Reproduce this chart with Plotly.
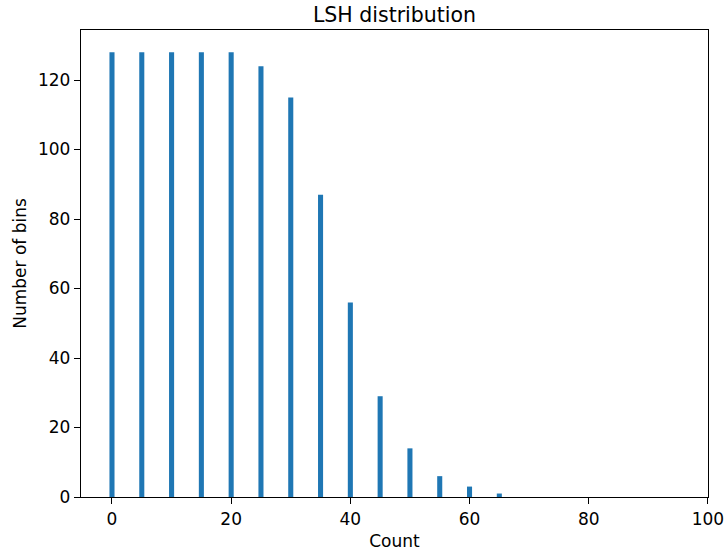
import plotly.graph_objects as go

counts = [0, 5, 10, 15, 20, 25, 30, 35, 40, 45, 50, 55, 60, 65]
num_bins = [128, 128, 128, 128, 128, 124, 115, 87, 56, 29, 14, 6, 3, 1]
x_ticks = [0, 20, 40, 60, 80, 100]
y_ticks = [0, 20, 40, 60, 80, 100, 120]

FONT = "DejaVu Sans"
W, H = 724, 556

fig = go.Figure(
    go.Bar(x=counts, y=num_bins, width=0.85, marker=dict(color="#1f77b4", line=dict(width=0)))
)

fig.update_layout(
    width=W,
    height=H,
    margin=dict(l=81, r=16, t=30, b=59, autoexpand=False),
    paper_bgcolor="white",
    plot_bgcolor="white",
    font=dict(family=FONT, size=17, color="black"),
    showlegend=False,
    title=dict(
        text="LSH distribution",
        x=0.5,
        xref="paper",
        xanchor="center",
        y=1 - 14.5 / H,
        yref="container",
        yanchor="middle",
        font=dict(family=FONT, size=20.5, color="black"),
    ),
)

fig.update_xaxes(
    range=[-5.2, 100.02],
    tickmode="array",
    tickvals=x_ticks,
    ticks="outside",
    ticklen=6,
    tickwidth=1.4,
    tickcolor="black",
    ticklabeloverflow="allow",
    showline=True,
    linecolor="black",
    linewidth=1.4,
    mirror=True,
    showgrid=False,
    zeroline=False,
    title=dict(text="Count", standoff=7, font=dict(size=17)),
)

fig.update_yaxes(
    range=[0, 134.4],
    tickmode="array",
    tickvals=y_ticks,
    ticks="outside",
    ticklen=6,
    tickwidth=1.4,
    tickcolor="black",
    showline=True,
    linecolor="black",
    linewidth=1.4,
    mirror=True,
    showgrid=False,
    zeroline=False,
    title=dict(text="Number of bins", standoff=6, font=dict(size=17)),
)

# remove the browser's default 8px body margin so the figure fills the window exactly
fig.write_html(
    "out.html",
    config={"displayModeBar": False},
    post_script="document.body.style.margin='0';document.body.style.overflow='hidden';",
)
